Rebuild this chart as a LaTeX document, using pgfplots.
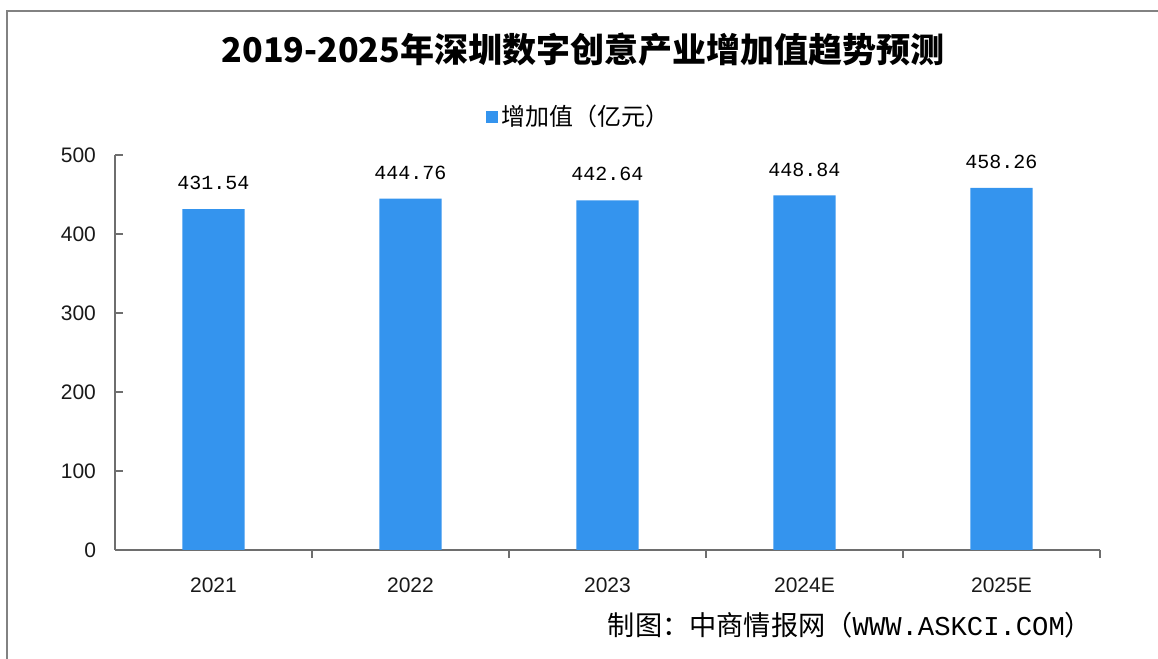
\documentclass[border=0pt]{standalone}
\usepackage{pgfplots}
\pgfplotsset{compat=1.18}
\usepackage{pgfplotstable}
\usepackage{fontspec}
\setmainfont{Liberation Sans}
\newfontfamily\cjk{Noto Sans CJK SC}
\newfontfamily\mono{Liberation Mono}
\definecolor{barblue}{RGB}{52,148,238}
\definecolor{axisgray}{RGB}{110,110,110}
\definecolor{framegray}{RGB}{130,130,130}
\pgfplotstableread{
x y lab
0 431.54 431.54
1 444.76 444.76
2 442.64 442.64
3 448.84 448.84
4 458.26 458.26
}\datatable
\begin{document}
\begin{tikzpicture}[x=0.5pt,y=0.5pt]
\useasboundingbox (-115,-109) rectangle (1043,550);
\draw[framegray,line width=1.2pt] (-108,-109) -- (-108,539) -- (1043,539);
\begin{axis}[
  at={(0pt,0pt)}, anchor=south west,
  scale only axis, width=492.5pt, height=197.5pt,
  xmin=-0.5, xmax=4.5, ymin=0, ymax=500,
  axis x line=bottom, axis y line=left,
  axis line style={-, axisgray, line width=0.6pt},
  xtick={0,1,2,3,4},
  xticklabels={2021,2022,2023,2024E,2025E},
  minor xtick={0.5,1.5,2.5,3.5,4.5},
  major x tick style={draw=none},
  minor x tick style={axisgray, line width=0.6pt},
  minor tick length=4pt,
  ytick={0,100,...,500},
  y tick style={axisgray, line width=0.6pt},
  major tick length=4pt,
  tick align=inside,
  /pgf/number format/assume math mode=true,
  ticklabel style={font=\fontsize{10.5}{12}\selectfont, text=black!90},
  yticklabel style={xshift=-6pt},
  xticklabel style={yshift=-6.5pt},
  ybar, bar width=0.315,
  point meta=explicit symbolic,
  nodes near coords,
  nodes near coords style={font=\mono\fontsize{10}{12}\selectfont, anchor=center, yshift=13pt, text=black},
  legend style={at={(0.472,1.096)}, anchor=center, draw=none, fill=none,
    font=\cjk\fontsize{12}{14}\selectfont, inner sep=1pt},
  legend image code/.code={\fill[barblue] (0pt,-3pt) rectangle (6pt,3pt);},
  clip=false,
]
\addplot[fill=barblue, draw=none] table[x=x, y=y, meta=lab] {\datatable};
\addlegendentry{增加值（亿元）}
\end{axis}
\node[font=\cjk\bfseries\fontsize{17}{20}\selectfont] at (468,500) {2019-2025年深圳数字创意产业增加值趋势预测};
\node[anchor=center, font=\fontsize{13.6}{16}\selectfont] at (735,-75) {{\cjk 制图：中商情报网（}{\mono WWW.ASKCI.COM}{\cjk ）}};
\end{tikzpicture}
\end{document}
